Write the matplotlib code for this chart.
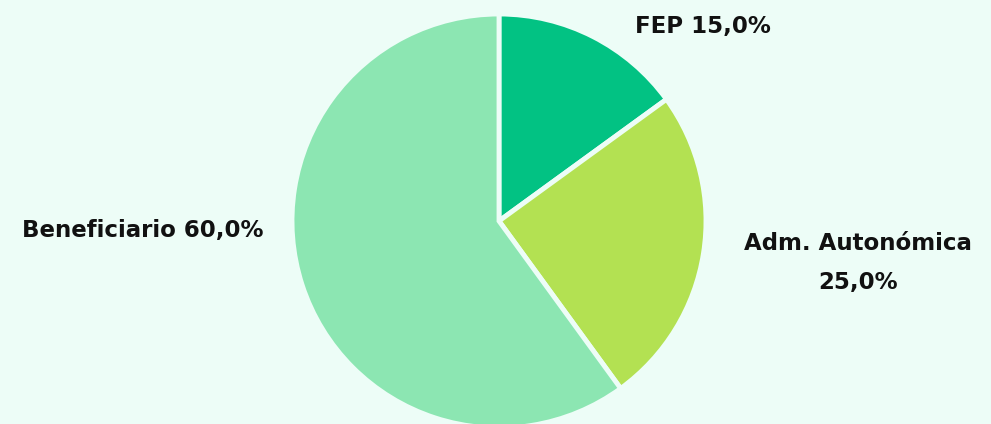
import matplotlib.pyplot as plt

labels = ["FEP", "Adm. Autonómica", "Beneficiario"]
shares = [15.0, 25.0, 60.0]
colors = ["#02c283", "#b3e152", "#8ce6b2"]

bg = "#edfdf7"

fig = plt.figure(figsize=(9.91, 4.24), dpi=100, facecolor=bg)
ax = fig.add_axes([0, 0, 1, 1])
ax.set_facecolor(bg)

# pie centre (499, 221) px from top-left, radius 207 px
r_px = 207
cx, cy = 499, 424 - 221
ax.pie(shares, colors=colors, startangle=90, counterclock=False,
       wedgeprops=dict(edgecolor=bg, linewidth=3.5))
ax.set_xlim(-cx / r_px, (991 - cx) / r_px)
ax.set_ylim(-cy / r_px, (424 - cy) / r_px)
ax.set_aspect("equal", adjustable="datalim")
ax.axis("off")


def fmt(v):
    return f"{v:.1f}".replace(".", ",") + "%"


font = dict(family="DejaVu Sans", weight="bold", fontsize=16.5, color="#111111")
ax.text(703, 424 - 27, f"{labels[0]} {fmt(shares[0])}", transform=None,
        ha="center", va="center", **font)
ax.text(858, 424 - 263, f"{labels[1]}\n{fmt(shares[1])}", transform=None,
        ha="center", va="center", linespacing=1.85, **font)
ax.text(143, 424 - 230, f"{labels[2]} {fmt(shares[2])}", transform=None,
        ha="center", va="center", **font)

fig.savefig("out.png", dpi=100, facecolor=bg)
